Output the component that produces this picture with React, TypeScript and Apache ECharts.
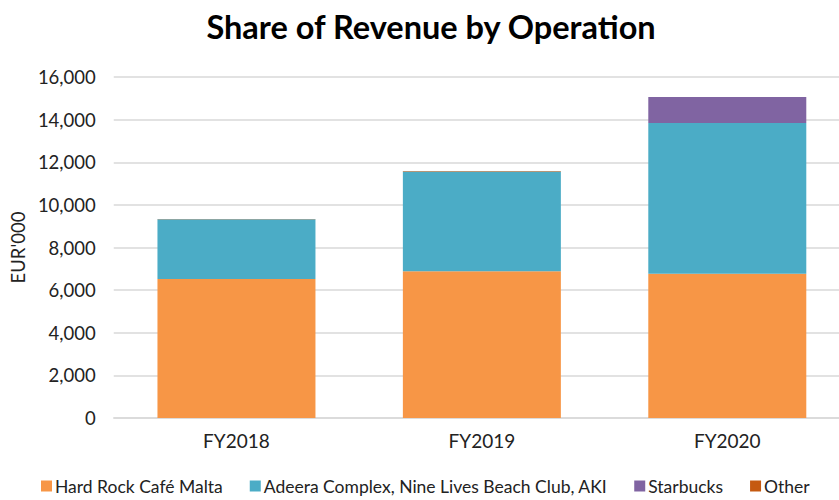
import React, { useEffect, useRef } from "react";
import * as echarts from "echarts";

const categories = ["FY2018", "FY2019", "FY2020"];
const hardRock = [6520, 6880, 6770];
const adeera = [2800, 4690, 7070];
const starbucks = [0, 0, 1220];
const other = [20, 20, 0];
const seriesNames = [
  "Hard Rock Café Malta",
  "Adeera Complex, Nine Lives Beach Club, AKI",
  "Starbucks",
  "Other",
];
const colors = ["#F79646", "#4BACC6", "#8064A2", "#C55A11"];

const FONT = "Lato, 'Open Sans', sans-serif";

export default function App() {
  const ref = useRef<HTMLDivElement>(null);
  useEffect(() => {
    if (!ref.current) return;
    const chart = echarts.init(ref.current, null, { renderer: "svg" });
    const data = [hardRock, adeera, starbucks, other];
    chart.setOption({
      animation: false,
      title: {
        text: "Share of Revenue by Operation",
        left: 426,
        textAlign: "center",
        top: 5,
        textStyle: { fontFamily: FONT, fontSize: 32.5, fontWeight: "bold", color: "#000" },
      },
      legend: {
        left: 36,
        top: 472,
        itemWidth: 11,
        itemHeight: 11,
        itemGap: 27,
        icon: "rect",
        textStyle: { fontFamily: FONT, fontSize: 17.5, color: "#222", padding: [0, 0, 0, -2] },
        data: seriesNames,
      },
      grid: { left: 113, right: 0, top: 77, bottom: 82, containLabel: false },
      xAxis: {
        type: "category",
        data: categories,
        axisLine: { lineStyle: { color: "#d9d9d9", width: 1.5 } },
        axisTick: { show: false },
        axisLabel: { fontFamily: FONT, fontSize: 19, color: "#222", margin: 13 },
      },
      yAxis: {
        type: "value",
        min: 0,
        max: 16000,
        interval: 2000,
        name: "EUR'000",
        nameLocation: "middle",
        nameGap: 86,
        nameRotate: 90,
        nameTextStyle: { fontFamily: FONT, fontSize: 18.5, color: "#222" },
        axisLabel: {
          fontFamily: FONT,
          fontSize: 18.5,
          color: "#222",
          margin: 18,
          formatter: (v: number) => v.toLocaleString("en-US"),
        },
        splitLine: { lineStyle: { color: "#d9d9d9", width: 1.5 } },
        axisLine: { show: false },
        axisTick: { show: false },
      },
      series: seriesNames.map((name, i) => ({
        name,
        type: "bar",
        stack: "total",
        barWidth: 158,
        itemStyle: { color: colors[i] },
        data: data[i],
      })),
    });
    return () => chart.dispose();
  }, []);
  return (
    <div style={{ position: "fixed", left: 0, top: 0, width: 839, height: 500, overflow: "hidden", background: "#fff" }}>
      <div ref={ref} style={{ width: 850, height: 500 }} />
    </div>
  );
}
